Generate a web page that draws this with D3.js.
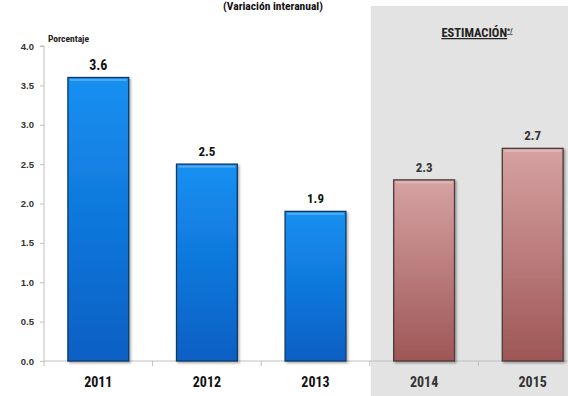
<!DOCTYPE html>
<html>
<head>
<meta charset="utf-8">
<script src="https://cdn.jsdelivr.net/npm/d3@7"></script>
<style>
  html, body { margin: 0; padding: 0; background: #fff; }
  svg { display: block; }
  text { font-family: "Liberation Sans Narrow", "Arial Narrow", "Roboto Condensed", sans-serif; font-weight: bold; }
</style>
</head>
<body>
<div id="chart"></div>
<script>
// Annual growth (percent), observed years and estimates
const years = ["2011", "2012", "2013", "2014", "2015"];
const growth = [3.6, 2.5, 1.9, 2.3, 2.7];
const estimated = [false, false, false, true, true];
const yTicks = [0, 0.5, 1, 1.5, 2, 2.5, 3, 3.5, 4];

const W = 568, H = 396;
const svg = d3.select("#chart").append("svg").attr("width", W).attr("height", H);

const x = d3.scaleBand().domain(years).range([44, 587]).paddingInner(0.44).paddingOuter(0.22);
const y = d3.scaleLinear().domain([0, 4]).range([361, 46]);

const defs = svg.append("defs");
const gBlue = defs.append("linearGradient").attr("id", "gBlue").attr("x1", 0).attr("x2", 0).attr("y1", 0).attr("y2", 1);
gBlue.append("stop").attr("offset", "0%").attr("stop-color", "#1690f2");
gBlue.append("stop").attr("offset", "100%").attr("stop-color", "#0a5fc4");
const gRose = defs.append("linearGradient").attr("id", "gRose").attr("x1", 0).attr("x2", 0).attr("y1", 0).attr("y2", 1);
gRose.append("stop").attr("offset", "0%").attr("stop-color", "#d6a2a2");
gRose.append("stop").attr("offset", "100%").attr("stop-color", "#9e5656");
const shadow = defs.append("filter").attr("id", "shadow").attr("x", "-10%").attr("y", "-10%").attr("width", "130%").attr("height", "130%");
shadow.append("feDropShadow").attr("dx", 1.5).attr("dy", 1.5).attr("stdDeviation", 1.2).attr("flood-color", "#000").attr("flood-opacity", 0.35);

// Shaded panel behind the estimated years
const firstEst = years[estimated.indexOf(true)];
const panelX = x(firstEst) - x.step() * x.paddingInner() / 2 + 1;
svg.append("rect")
  .attr("x", panelX).attr("y", 6)
  .attr("width", W - panelX).attr("height", H - 6)
  .attr("fill", "#e3e3e3");

// Title
svg.append("text")
  .attr("x", 273).attr("y", 10)
  .attr("text-anchor", "middle")
  .attr("font-size", 11.5)
  .attr("fill", "#111")
  .text("(Variación interanual)");

// Estimate heading
const est = svg.append("text")
  .attr("x", 477).attr("y", 37)
  .attr("text-anchor", "middle")
  .attr("font-size", 12.5)
  .attr("fill", "#222")
  .attr("text-decoration", "underline");
est.append("tspan").text("ESTIMACIÓN");
est.append("tspan").attr("font-size", 7).attr("dy", -4).text("*/");

// Y axis
const yAxis = d3.axisLeft(y).tickValues(yTicks).tickFormat(d3.format(".1f")).tickSize(4).tickPadding(6);
const ya = svg.append("g").attr("transform", "translate(44,0)").call(yAxis);
ya.select(".domain").attr("stroke", "#bfbfbf").attr("d", `M-4,${y(4)}H0V${y(0)}`);
ya.selectAll(".tick line").attr("stroke", "#bfbfbf");
ya.selectAll(".tick text").attr("font-size", 9.5).attr("fill", "#333")
  .style("font-family", "'Liberation Sans Narrow', 'Arial Narrow', sans-serif").style("font-weight", "bold");

svg.append("text")
  .attr("x", 48).attr("y", 42)
  .attr("font-size", 9.5)
  .attr("fill", "#222")
  .text("Porcentaje");

// X axis line with separators between categories
const xa = svg.append("g");
xa.append("line").attr("x1", 44).attr("x2", W).attr("y1", y(0)).attr("y2", y(0)).attr("stroke", "#bfbfbf");
const edges = years.map(d => x(d) - x.step() * x.paddingInner() / 2);
edges[0] = 44;
xa.selectAll("line.sep").data(edges).join("line").attr("class", "sep")
  .attr("x1", d => d).attr("x2", d => d)
  .attr("y1", y(0)).attr("y2", y(0) + 5)
  .attr("stroke", "#bfbfbf");

// Bars
svg.append("g").selectAll("rect").data(years).join("rect")
  .attr("x", d => x(d))
  .attr("y", (d, i) => y(growth[i]))
  .attr("width", x.bandwidth())
  .attr("height", (d, i) => y(0) - y(growth[i]))
  .attr("fill", (d, i) => estimated[i] ? "url(#gRose)" : "url(#gBlue)")
  .attr("stroke", (d, i) => estimated[i] ? "#4d3a3a" : "#0e3a66")
  .attr("stroke-width", 1.3)
  .attr("filter", "url(#shadow)");

// Light bevel on the top of each bar
svg.append("g").selectAll("rect").data(years).join("rect")
  .attr("x", d => x(d) + 2)
  .attr("y", (d, i) => y(growth[i]) + 1.5)
  .attr("width", x.bandwidth() - 4)
  .attr("height", 2)
  .attr("fill", "#fff")
  .attr("opacity", 0.25);

// Value labels
svg.append("g").selectAll("text").data(years).join("text")
  .attr("x", d => x(d) + x.bandwidth() / 2)
  .attr("y", (d, i) => y(growth[i]) - 8)
  .attr("text-anchor", "middle")
  .attr("font-size", (d, i) => i === 0 ? 14 : 13)
  .attr("fill", (d, i) => estimated[i] ? "#333" : "#111")
  .text((d, i) => d3.format(".1f")(growth[i]));

// Year labels
svg.append("g").selectAll("text").data(years).join("text")
  .attr("x", d => x(d) + x.bandwidth() / 2)
  .attr("y", 387)
  .attr("text-anchor", "middle")
  .attr("font-size", 14)
  .attr("fill", (d, i) => estimated[i] ? "#333" : "#111")
  .text(d => d);
</script>
</body>
</html>
